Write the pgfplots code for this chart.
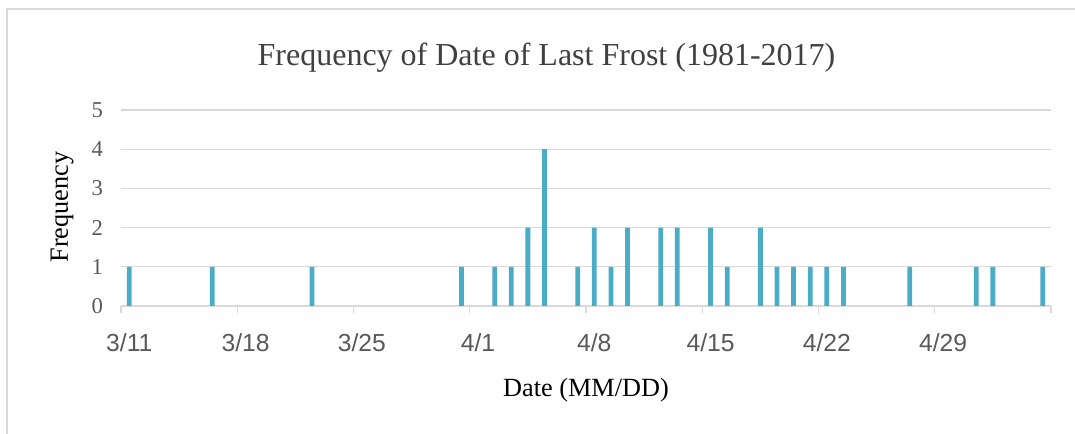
\documentclass[border=0pt]{standalone}
\usepackage{fontspec}
\setmainfont{Liberation Serif}
\newfontfamily\arialfont{Liberation Sans}
\usepackage{pgfplots}
\pgfplotsset{compat=1.18}
\definecolor{barc}{HTML}{4BACC6}
\definecolor{gridc}{HTML}{D9D9D9}
\definecolor{tickc}{HTML}{595959}
\definecolor{titlec}{HTML}{404040}
\begin{document}
\begin{tikzpicture}
\path[use as bounding box] (0,0) rectangle (806.25pt,325.5pt);
\draw[gridc, line width=1.5pt] (5.25pt,0pt) -- (5.25pt,318.75pt) -- (806.25pt,318.75pt);
\begin{axis}[
  at={(90.75pt,96pt)}, anchor=south west,
  scale only axis, width=697.5pt, height=147pt,
  xmin=-0.5, xmax=55.5, ymin=0, ymax=5,
  ybar, bar width=3.6pt,
  axis x line*=bottom, axis y line*=left,
  x axis line style={gridc, line width=1pt},
  y axis line style={draw=none},
  xtick={0,7,...,49},
  xticklabels={3/11,3/18,3/25,4/1,4/8,4/15,4/22,4/29},
  minor xtick={-0.5,6.5,...,55.5},
  tick align=outside,
  major tick length=0pt, minor tick length=5.25pt,
  minor x tick style={gridc, line width=1pt},
  ytick={0,1,2,3,4,5},
  ymajorgrids, major grid style={gridc, line width=1pt},
  /pgf/number format/assume math mode=true,
  xticklabel style={font=\arialfont\fontsize{18.5}{20}\selectfont, text=tickc, yshift=-17pt},
  yticklabel style={font=\fontsize{17}{19}\selectfont, text=tickc, xshift=-10pt},
  title={Frequency of Date of Last Frost (1981-2017)},
  title style={font=\fontsize{24}{28}\selectfont, text=titlec, at={(axis description cs:0.4575,1.225)}, anchor=center},
  xlabel={Date (MM/DD)},
  xlabel style={font=\fontsize{19.7}{22}\selectfont, at={(axis description cs:0.5,-0.43)}, anchor=center},
  ylabel={Frequency},
  ylabel style={font=\fontsize{19.7}{22}\selectfont, at={(axis description cs:-0.0634,0.505)}, anchor=center, rotate=0},
]
\addplot[fill=barc, draw=none] coordinates {
(0,1)(5,1)(11,1)(20,1)(22,1)(23,1)(24,2)(25,4)(27,1)(28,2)(29,1)(30,2)
(32,2)(33,2)(35,2)(36,1)(38,2)(39,1)(40,1)(41,1)(42,1)(43,1)(47,1)(51,1)(52,1)(55,1)
};
\end{axis}
\end{tikzpicture}
\end{document}
